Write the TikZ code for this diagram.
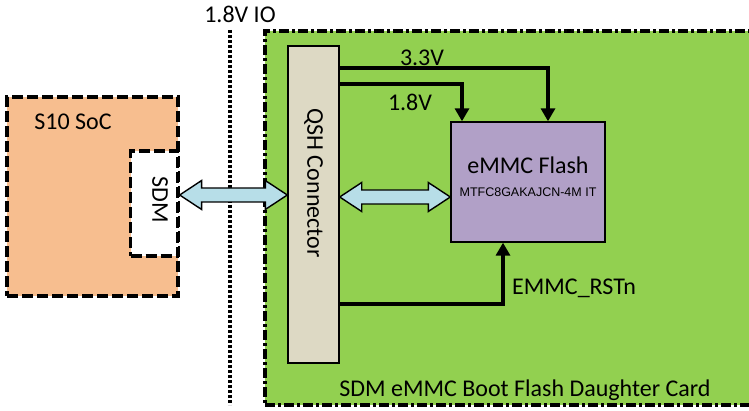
\documentclass[tikz,border=0pt]{standalone}
\usepackage{fontspec}
\setmainfont{Carlito}
\newfontfamily\partfont{Liberation Sans}
\usetikzlibrary{arrows.meta, calc, positioning}

\definecolor{socorange}{HTML}{F7BE8F}
\definecolor{cardgreen}{HTML}{92D050}
\definecolor{connbeige}{HTML}{DDD9C4}
\definecolor{flashpurple}{HTML}{B1A0C7}
\definecolor{buscyan}{HTML}{B7DEE8}

\tikzset{
    dashbox/.style={draw, line width=3.3pt, dash pattern=on 11pt off 4pt, inner sep=0pt},
    cardbox/.style={draw, line width=3.3pt, dash pattern=on 10pt off 3pt on 3pt off 3pt, inner sep=0pt},
    blockbox/.style={draw, line width=1.4pt, inner sep=0pt},
    bus/.style={draw, line width=1.4pt, fill=buscyan, line join=miter},
    power/.style={line width=3.5pt, -{Triangle[length=13pt,width=14pt]}},
    lbl/.style={font=\fontsize{24}{28}\selectfont, inner sep=0pt}
}

% double block arrow between two points
\newcommand{\busarrow}[2]{%
    \draw[bus] (#1) -- ++(22,14.5) -- ++(0,-7.5) -- ($(#2)+(-22,7)$) -- ++(0,7.5) -- (#2)
        -- ++(-22,-14.5) -- ++(0,7.5) -- ($(#1)+(22,-7)$) -- ++(0,-7.5) -- cycle;}

\begin{document}
\begin{tikzpicture}[x=1pt, y=1pt]
    \useasboundingbox (0,0) rectangle (749,411);

    % daughter card
    \node[cardbox, fill=cardgreen, minimum width=490pt, minimum height=374pt] (card) at (510,193) {};
    \node[lbl] (cardtxt) at (525,21) {SDM eMMC Boot Flash Daughter Card};

    % voltage domain boundary
    \coordinate (iotop) at (230,381);
    \coordinate (iobot) at (230,6);
    \draw[line width=4pt, dash pattern=on 3pt off 2pt] (iotop) -- (iobot);
    \node[lbl] (iotxt) at (240,397) {1.8V IO};

    % SoC side
    \node[dashbox, fill=socorange, minimum width=171pt, minimum height=199pt] (soc) at (92.5,214.5) {};
    \node[lbl] (soctxt) at (73,289) {S10 SoC};
    \node[dashbox, fill=white, minimum width=47pt, minimum height=105pt] (sdm) at (154,207.5) {};
    \node[lbl, rotate=-90] (sdmtxt) at (160,211) {SDM};

    % connector and flash
    \node[blockbox, fill=connbeige, minimum width=51pt, minimum height=317pt] (qsh) at (313.5,206.5) {};
    \node[lbl, rotate=-90] (qshtxt) at (313.5,228) {QSH Connector};
    \node[blockbox, fill=flashpurple, minimum width=154pt, minimum height=120pt] (emmc) at (528,229) {};
    \node[lbl] (emmctxt) at (528,246) {eMMC Flash};
    \node[font=\partfont\fontsize{12.5}{14}\selectfont, inner sep=0pt] (parttxt) at (528,219) {MTFC8GAKAJCN-4M IT};

    % data buses
    \coordinate (bus1a) at (soc.east |- 0,216);
    \coordinate (bus1b) at (qsh.west |- 0,216);
    \busarrow{bus1a}{bus1b}
    \coordinate (bus2a) at (qsh.east |- 0,214);
    \coordinate (bus2b) at (emmc.west |- 0,214);
    \busarrow{bus2a}{bus2b}

    % power and reset
    \draw[power] (qsh.east |- 0,343) -| (emmc.north -| 548,0);
    \draw[power] (qsh.east |- 0,327) -| (emmc.north -| 462,0);
    \draw[power] (qsh.east |- 0,107) -| (emmc.south -| 503,0);
    \node[lbl] (v33) at (422,353) {3.3V};
    \node[lbl] (v18) at (410,309) {1.8V};
    \node[lbl, anchor=west] (rst) at (512,123) {EMMC\_RSTn};
\end{tikzpicture}
\end{document}
